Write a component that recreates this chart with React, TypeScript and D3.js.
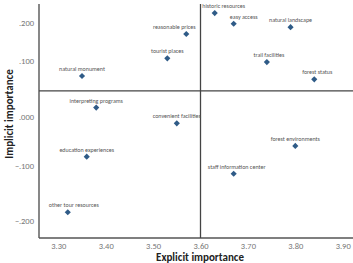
import React, { useEffect, useRef } from "react";
import * as d3 from "d3";

// attribute names, explicit (x) and implicit (y) importance
const attributes = [
  "historic resources",
  "easy access",
  "natural landscape",
  "reasonable prices",
  "tourist places",
  "trail facilities",
  "natural monument",
  "forest status",
  "interpreting programs",
  "convenient facilities",
  "forest environments",
  "education experiences",
  "staff information center",
  "other tour resources",
];
const explicitValues = [3.63, 3.67, 3.79, 3.57, 3.53, 3.74, 3.35, 3.84, 3.38, 3.55, 3.8, 3.36, 3.67, 3.32];
const implicitValues = [0.226, 0.198, 0.189, 0.171, 0.107, 0.098, 0.073, 0.067, 0.016, -0.014, -0.06, -0.082, -0.115, -0.185];

const xTicks = [3.3, 3.4, 3.5, 3.6, 3.7, 3.8, 3.9];
const yTicks = [-0.2, -0.1, 0, 0.1, 0.2];
const xMean = 3.6;
const yMean = 0.046;

// small manual nudges so labels don't collide
const labelNudge: Record<string, number> = {
  "historic resources": 9,
  "easy access": 10,
  "reasonable prices": -12,
  "other tour resources": 6,
  "forest status": 3,
  "trail facilities": 2,
  "staff information center": 3,
};

const FONT = "Carlito, Calibri, 'Liberation Sans Narrow', 'DejaVu Sans Condensed', 'Noto Sans', sans-serif";

export default function App() {
  const svgRef = useRef<SVGSVGElement>(null);

  useEffect(() => {
    const width = 353;
    const height = 263;
    const left = 39;
    const right = 353;
    const top = 4;
    const bottom = 238;

    const svg = d3.select(svgRef.current).attr("width", width).attr("height", height);
    svg.selectAll("*").remove();

    const x = d3.scaleLinear().domain([3.259, 3.3, 3.9]).range([left, 58.3, 342.7]);
    // the source axis has uneven spacing between ticks
    const y = d3
      .scaleLinear()
      .domain([-0.231, -0.2, -0.1, 0, 0.1, 0.2, 0.25])
      .range([bottom, 220.5, 165.5, 116.5, 61, 23, top]);

    // tick labels
    const xAxis = svg
      .append("g")
      .attr("transform", `translate(0,${bottom})`)
      .call(d3.axisBottom(x).tickValues(xTicks).tickSize(0).tickPadding(5).tickFormat(d3.format(".2f")));
    xAxis.select(".domain").remove();
    xAxis.selectAll("text").style("font-size", "8.5px").style("font-family", FONT).attr("fill", "#777");

    const yAxis = svg
      .append("g")
      .attr("transform", `translate(${left},0)`)
      .call(
        d3
          .axisLeft(y)
          .tickValues(yTicks)
          .tickSize(0)
          .tickPadding(5)
          .tickFormat((v) => d3.format(".3f")(v as number).replace("0.", ".")),
      );
    yAxis.select(".domain").remove();
    yAxis.selectAll("text").style("font-size", "8.5px").style("font-family", FONT).attr("fill", "#777");

    // axis frame
    svg.append("line").attr("x1", left).attr("x2", left).attr("y1", top).attr("y2", bottom)
      .attr("stroke", "#555").attr("stroke-width", 1.4);
    svg.append("line").attr("x1", left).attr("x2", right).attr("y1", bottom).attr("y2", bottom)
      .attr("stroke", "#555").attr("stroke-width", 1.4);

    // mean reference lines
    svg.append("line").attr("x1", x(xMean)).attr("x2", x(xMean)).attr("y1", top).attr("y2", bottom)
      .attr("stroke", "#444").attr("stroke-width", 1.3);
    svg.append("line").attr("x1", left).attr("x2", right).attr("y1", y(yMean)).attr("y2", y(yMean))
      .attr("stroke", "#444").attr("stroke-width", 1.3);

    // points
    const points = attributes.map((name, i) => ({ name, ex: explicitValues[i], im: implicitValues[i] }));
    const g = svg.append("g");
    g.selectAll("path")
      .data(points)
      .join("path")
      .attr("transform", (d) => `translate(${x(d.ex)},${y(d.im)})`)
      .attr("d", d3.symbol(d3.symbolDiamond2, 24)())
      .attr("fill", "#2f5b87");

    g.selectAll("text")
      .data(points)
      .join("text")
      .attr("x", (d) => x(d.ex) + (labelNudge[d.name] || 0))
      .attr("y", (d) => y(d.im) - 5)
      .attr("text-anchor", "middle")
      .style("font-size", "6px")
      .style("font-family", FONT)
      .attr("fill", "#555")
      .text((d) => d.name);

    // axis titles
    svg.append("text")
      .attr("x", 200)
      .attr("y", 261)
      .attr("text-anchor", "middle")
      .style("font-size", "11px")
      .style("font-weight", "bold")
      .style("font-family", FONT)
      .attr("fill", "#222")
      .text("Explicit importance");

    svg.append("text")
      .attr("transform", `translate(13,114) rotate(-90)`)
      .attr("text-anchor", "middle")
      .style("font-size", "11px")
      .style("font-weight", "bold")
      .style("font-family", FONT)
      .attr("fill", "#222")
      .text("Implicit importance");
  }, []);

  return <svg ref={svgRef} style={{ position: "absolute", left: 0, top: 0 }} />;
}
